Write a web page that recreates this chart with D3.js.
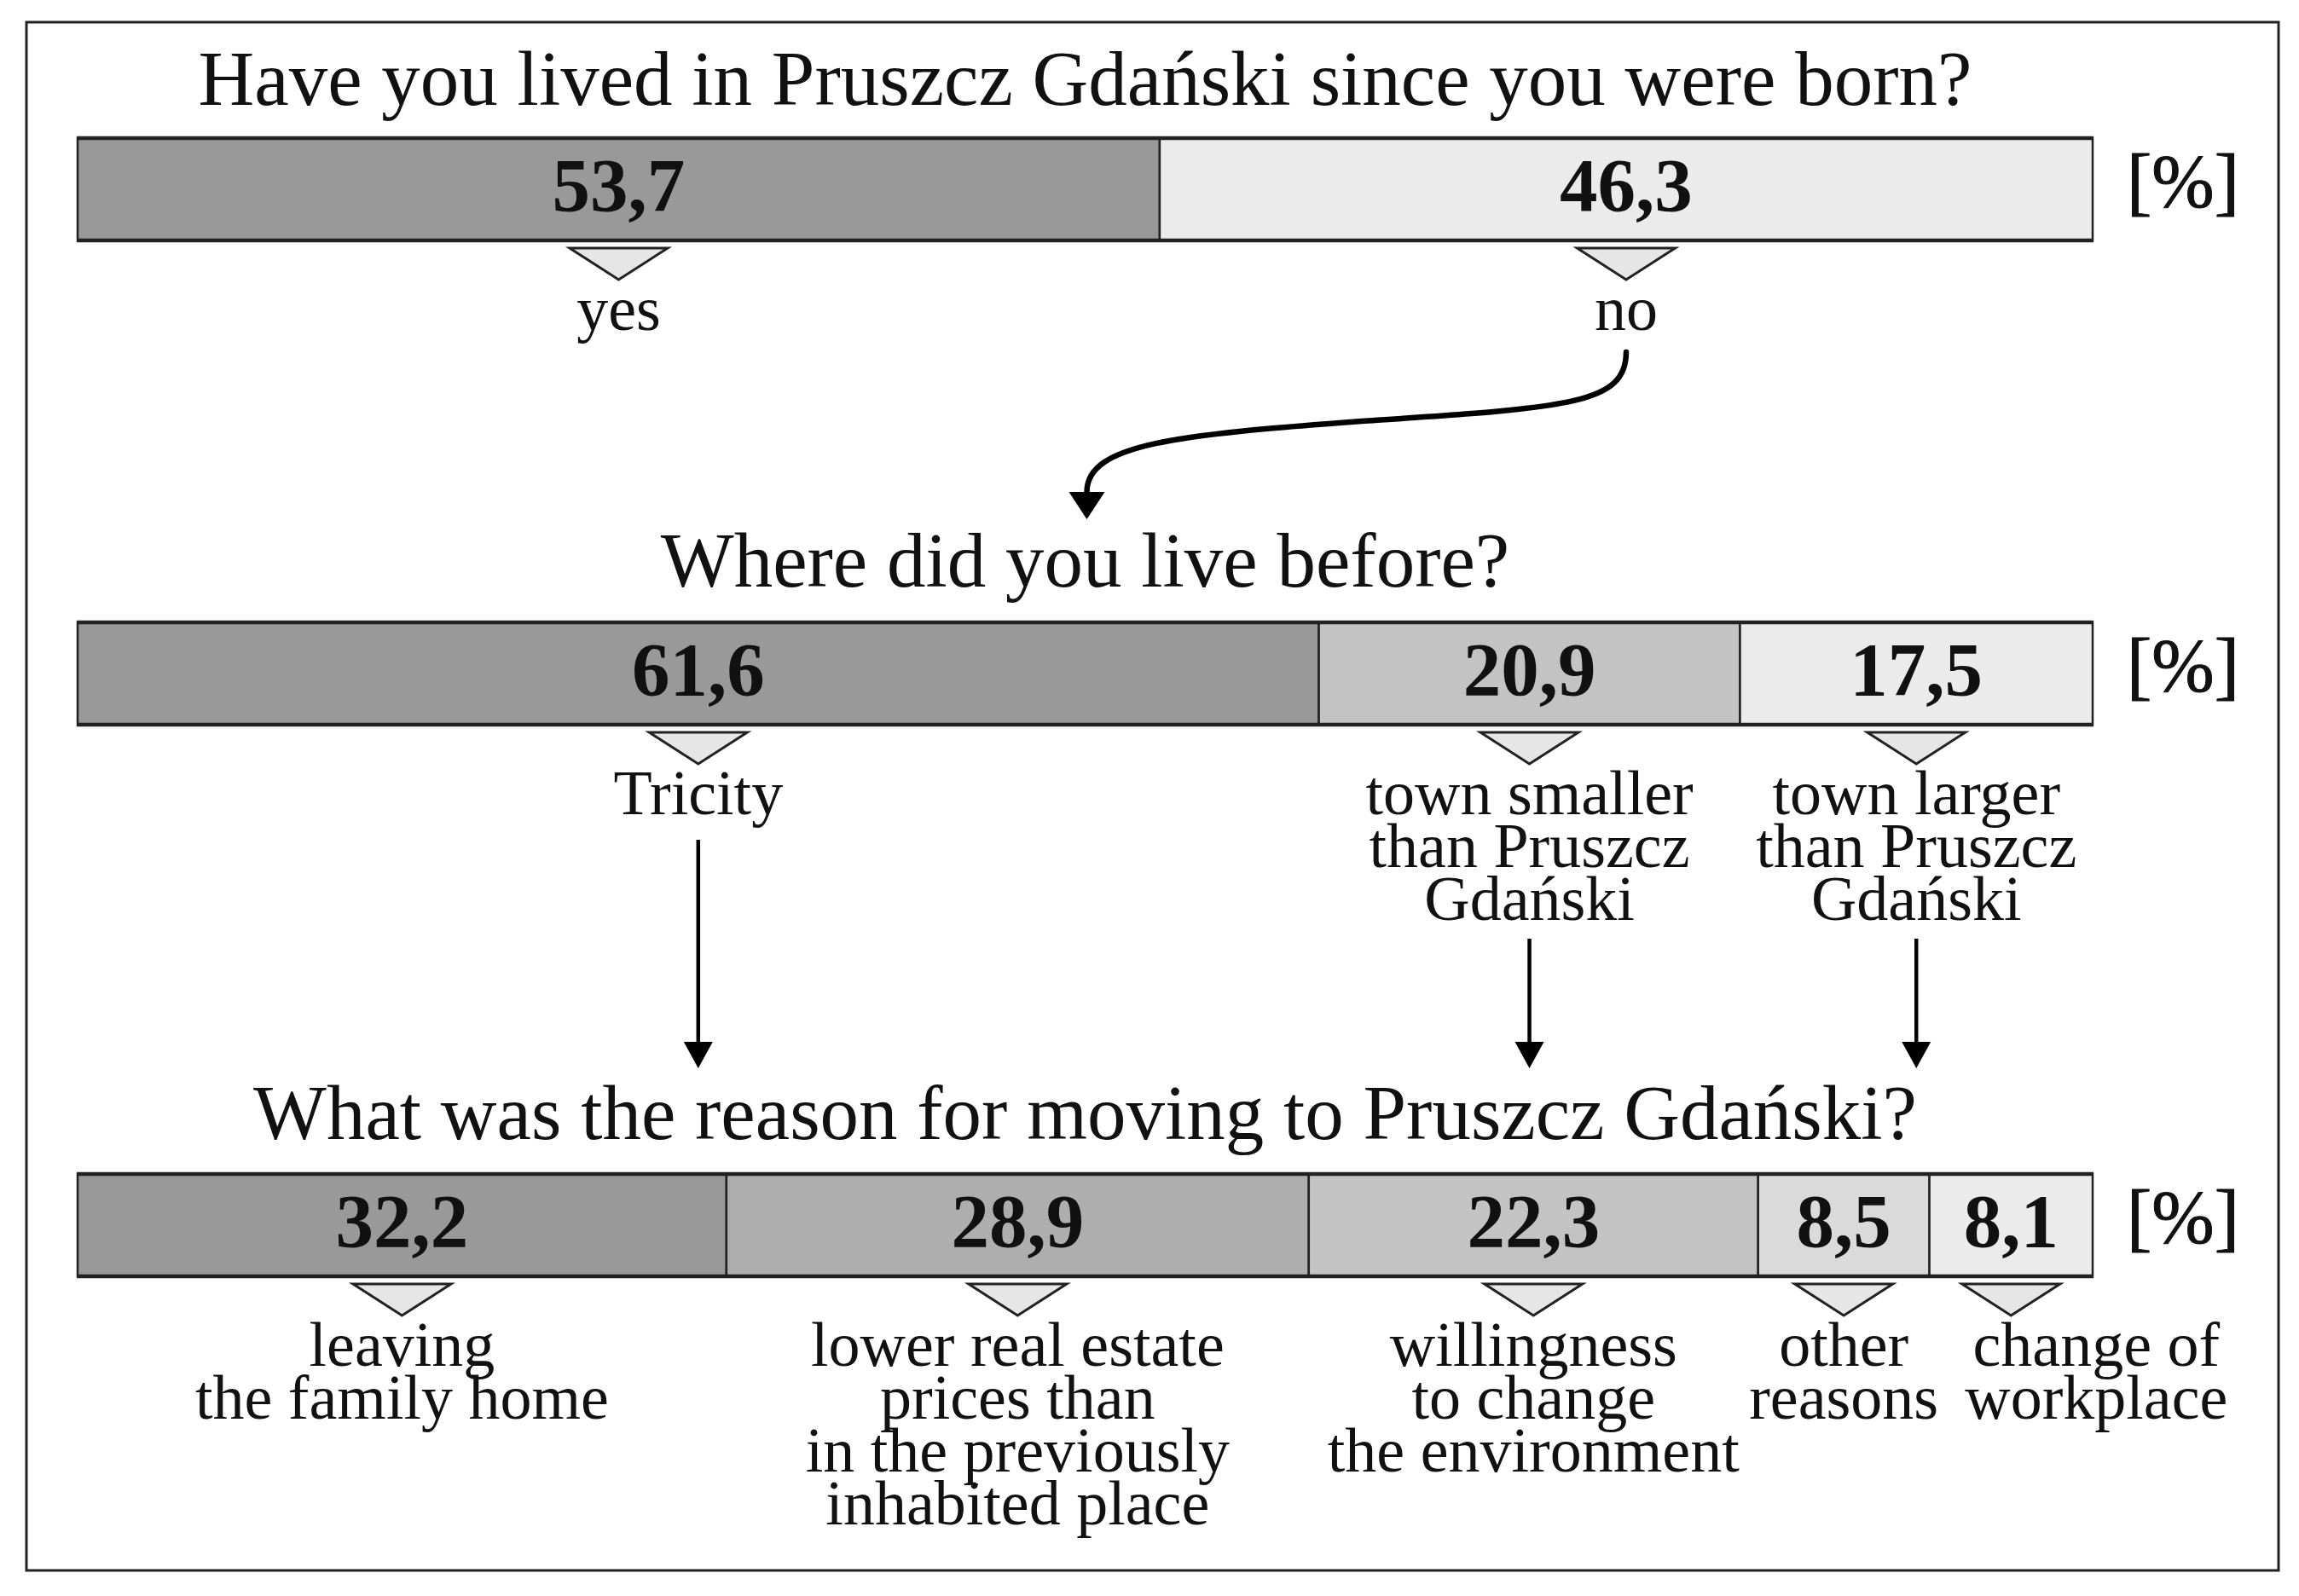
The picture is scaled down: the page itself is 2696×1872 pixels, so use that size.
<!DOCTYPE html>
<html>
<head>
<meta charset="utf-8">
<script src="https://cdn.jsdelivr.net/npm/d3@7"></script>
<style>
  html, body { margin: 0; padding: 0; background: #fff; }
  svg { display: block; }
  text { font-family: "Liberation Serif", "Times New Roman", serif; fill: #111; }
</style>
</head>
<body>
<svg id="chart" width="2696" height="1872"></svg>
<script>
// question titles
const titles = [
  "Have you lived in Pruszcz Gdański since you were born?",
  "Where did you live before?",
  "What was the reason for moving to Pruszcz Gdański?"
];

// answer shares [%]
const q1Values = [53.7, 46.3];
const q2Values = [61.6, 20.9, 17.5];
const q3Values = [32.2, 28.9, 22.3, 8.5, 8.1];

// answer labels (one entry per line)
const q1Labels = [["yes"], ["no"]];
const q2Labels = [["Tricity"], ["town smaller", "than Pruszcz", "Gdański"], ["town larger", "than Pruszcz", "Gdański"]];
const q3Labels = [
  ["leaving", "the family home"],
  ["lower real estate", "prices than", "in the previously", "inhabited place"],
  ["willingness", "to change", "the environment"],
  ["other", "reasons"],
  ["change of", "workplace"]
];

const unitLabel = "[%]";

// segment fills
const q1Colors = ["#999999", "#ebebeb"];
const q2Colors = ["#999999", "#c3c3c3", "#ebebeb"];
const q3Colors = ["#999999", "#aeaeae", "#c3c3c3", "#dadada", "#ebebeb"];

const svg = d3.select("#chart");
const fmt = d3.formatLocale({ decimal: ",", thousands: " ", grouping: [3], currency: ["", ""] }).format(".1f");

const x = d3.scaleLinear().domain([0, 100]).range([91, 2454]);
const barH = 120;
const lineH = 62;

// outer frame
svg.append("rect").attr("x", 31).attr("y", 26).attr("width", 2641).attr("height", 1816)
  .attr("fill", "none").attr("stroke", "#222").attr("stroke-width", 3);

function drawBlock(title, values, labels, colors, titleY, barY, labelShift) {
  const g = svg.append("g");
  g.append("text").attr("x", x(50)).attr("y", titleY).attr("text-anchor", "middle")
    .attr("font-size", 91).text(title);

  let acc = 0;
  const segs = values.map((v, i) => {
    const s = { v, i, x0: x(acc), x1: x(acc + v) };
    acc += v;
    return s;
  });

  g.selectAll("rect.seg").data(segs).join("rect").attr("class", "seg")
    .attr("x", d => d.x0).attr("y", barY).attr("width", d => d.x1 - d.x0).attr("height", barH)
    .attr("fill", d => colors[d.i]).attr("stroke", "#222").attr("stroke-width", 2.5);

  // heavier top and bottom edge
  [barY, barY + barH].forEach(yy => {
    g.append("line").attr("x1", x(0) - 1).attr("x2", x(100) + 1).attr("y1", yy).attr("y2", yy)
      .attr("stroke", "#222").attr("stroke-width", 4.5);
  });

  g.selectAll("text.val").data(segs).join("text").attr("class", "val")
    .attr("x", d => (d.x0 + d.x1) / 2).attr("y", barY + 85).attr("text-anchor", "middle")
    .attr("font-size", 89).attr("font-weight", "bold").text(d => fmt(d.v));

  g.append("text").attr("x", 2560).attr("y", barY + 80).attr("text-anchor", "middle")
    .attr("font-size", 88).attr("stroke", "#111").attr("stroke-width", 1).text(unitLabel);

  const triTop = barY + barH + 9, triBot = triTop + 37, triW = 115;
  g.selectAll("path.tri").data(segs).join("path").attr("class", "tri")
    .attr("d", d => {
      const c = (d.x0 + d.x1) / 2;
      return `M${c - triW / 2},${triTop}L${c + triW / 2},${triTop}L${c},${triBot}Z`;
    })
    .attr("fill", "#e6e6e6").attr("stroke", "#222").attr("stroke-width", 3).attr("stroke-linejoin", "miter");

  segs.forEach(d => {
    const c = (d.x0 + d.x1) / 2 + (labelShift[d.i] || 0);
    g.selectAll(null).data(labels[d.i]).join("text")
      .attr("x", c).attr("y", (t, j) => triBot + 59 + j * lineH).attr("text-anchor", "middle")
      .attr("font-size", 74).text(t => t);
  });
  return segs.map(d => ({ c: (d.x0 + d.x1) / 2, bottom: triBot + 59 + (labels[d.i].length - 1) * lineH }));
}

const defs = svg.append("defs");
defs.append("marker").attr("id", "head").attr("viewBox", "0 0 40 32").attr("refX", 20).attr("refY", 2)
  .attr("markerWidth", 40).attr("markerHeight", 32).attr("markerUnits", "userSpaceOnUse").attr("orient", "auto-start-reverse")
  .append("path").attr("d", "M0,0L40,0L20,32Z").attr("fill", "#000");

const b1 = drawBlock(titles[0], q1Values, q1Labels, q1Colors, 123, 162, {});
const b2 = drawBlock(titles[1], q2Values, q2Labels, q2Colors, 688, 730, {});
drawBlock(titles[2], q3Values, q3Labels, q3Colors, 1336, 1377, { 4: 100 });

// curved arrow from "no" to second question
const noC = b1[1].c;
const tgt = x(50);
svg.append("path")
  .attr("d", `M${noC},413 C${noC},475 ${noC - 70},478 ${noC - 310},494 C${tgt + 110},510 ${tgt + 2},520 ${tgt + 2},577`)
  .attr("fill", "none").attr("stroke", "#000").attr("stroke-width", 6.5).attr("stroke-linecap", "round");
svg.append("path").attr("d", `M${tgt + 2 - 21},577L${tgt + 2 + 21},577L${tgt + 2},609Z`).attr("fill", "#000");

// vertical arrows from second-question answers to third question
b2.forEach(d => {
  const y0 = d.bottom + (d.bottom < 1000 ? 30 : 22);
  svg.append("line").attr("x1", d.c).attr("x2", d.c).attr("y1", y0).attr("y2", 1224)
    .attr("stroke", "#000").attr("stroke-width", 4.5);
  svg.append("path").attr("d", `M${d.c - 17},1222L${d.c + 17},1222L${d.c},1253Z`).attr("fill", "#000");
});
</script>
</body>
</html>
